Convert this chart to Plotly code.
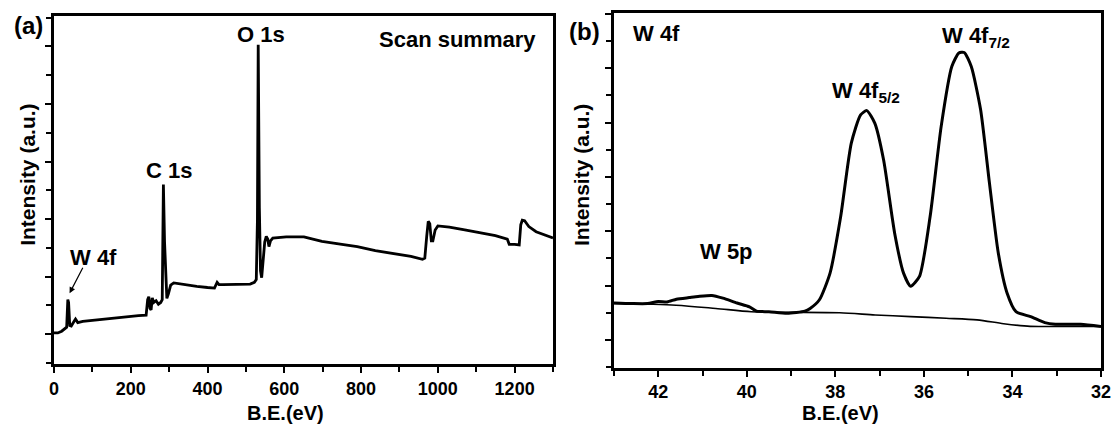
import plotly.graph_objects as go

# ---------------- Panel (a): survey scan ----------------
survey_be = [0, 10, 20, 28, 33, 36, 38, 41, 45, 52, 56, 62, 75, 100, 140, 180, 220, 240,
             244, 247, 250, 253, 256, 260, 266, 272, 278, 282, 285, 288, 291, 294, 298,
             304, 312, 340, 372, 400, 418, 425, 430, 440, 480, 511, 522, 527, 530, 532,
             535, 538, 541, 545, 549, 553, 557, 560, 564, 570, 605, 651, 698, 750, 790,
             837, 884, 930, 960, 966, 971, 975, 979, 983, 987, 993, 1000, 1030, 1070,
             1116, 1150, 1181, 1186, 1200, 1212, 1216, 1220, 1226, 1237, 1256, 1274, 1300]
survey_int = [1.02, 1.02, 1.05, 1.10, 1.12, 1.60, 1.55, 1.15, 1.14, 1.22, 1.26, 1.20, 1.22,
              1.24, 1.27, 1.30, 1.32, 1.33, 1.60, 1.65, 1.45, 1.42, 1.63, 1.55, 1.58, 1.52,
              1.55, 1.60, 3.60, 2.60, 1.90, 1.62, 1.70, 1.85, 1.89, 1.86, 1.83, 1.81, 1.80,
              1.90, 1.86, 1.86, 1.87, 1.87, 1.90, 1.95, 3.00, 6.03, 3.20, 2.10, 1.98, 2.35,
              2.60, 2.70, 2.65, 2.52, 2.62, 2.67, 2.69, 2.69, 2.61, 2.56, 2.52, 2.45, 2.40,
              2.35, 2.30, 2.32, 2.70, 2.96, 2.92, 2.62, 2.62, 2.81, 2.88, 2.86, 2.81, 2.76,
              2.71, 2.65, 2.56, 2.56, 2.55, 2.90, 2.98, 2.97, 2.87, 2.78, 2.73, 2.67]

# ---------------- Panel (b): W 4f high resolution ----------------
w4f_be = [43.0, 42.6, 42.24, 42.0, 41.8, 41.59, 41.3, 41.1, 40.79, 40.54, 40.22, 39.94,
          39.78, 39.50, 39.09, 38.69, 38.57, 38.36, 38.12, 37.88, 37.64, 37.43, 37.29,
          37.11, 36.91, 36.66, 36.46, 36.30, 36.10, 35.86, 35.61, 35.37, 35.21, 35.09,
          34.93, 34.72, 34.52, 34.32, 34.12, 33.92, 33.59, 33.27, 33.03, 32.46, 32.0]
w4f_int = [1.68, 1.67, 1.67, 1.71, 1.70, 1.75, 1.78, 1.80, 1.82, 1.77, 1.68, 1.61,
           1.53, 1.52, 1.49, 1.53, 1.58, 1.74, 2.23, 3.27, 4.62, 5.14, 5.22,
           4.99, 4.31, 2.96, 2.23, 1.99, 2.17, 3.27, 4.93, 6.03, 6.28, 6.29,
           6.03, 5.24, 3.89, 2.60, 1.86, 1.52, 1.43, 1.32, 1.29, 1.29, 1.25]

bg_be = [43.0, 41.6, 40.7, 39.9, 39.1, 37.9, 37.1, 36.3, 35.5, 34.8, 34.2, 33.6, 33.0, 32.0]
bg_int = [1.67, 1.64, 1.58, 1.52, 1.51, 1.50, 1.46, 1.43, 1.40, 1.37, 1.30, 1.25, 1.25, 1.25]

survey_xticks = [0, 200, 400, 600, 800, 1000, 1200]
w4f_xticks = [42, 40, 38, 36, 34, 32]

FONT = "Liberation Sans, Arial, Helvetica, sans-serif"
BLACK = "#000000"

fig = go.Figure()
fig.add_trace(go.Scatter(x=survey_be, y=survey_int, mode="lines",
                         line=dict(color=BLACK, width=2.8), xaxis="x", yaxis="y",
                         showlegend=False, hoverinfo="skip"))
fig.add_trace(go.Scatter(x=w4f_be, y=w4f_int, mode="lines",
                         line=dict(color=BLACK, width=3, shape="spline", smoothing=0.6),
                         xaxis="x2", yaxis="y2", showlegend=False, hoverinfo="skip"))
fig.add_trace(go.Scatter(x=bg_be, y=bg_int, mode="lines",
                         line=dict(color=BLACK, width=1.6, shape="spline", smoothing=0.8),
                         xaxis="x2", yaxis="y2", showlegend=False, hoverinfo="skip"))

W, H = 1116, 425

def px_x(p):
    return p / W

def px_y(p):
    return 1 - p / H

axis_common = dict(showline=True, linecolor=BLACK, linewidth=3, mirror=True,
                   showgrid=False, zeroline=False, ticks="outside", ticklen=6,
                   tickwidth=2, tickcolor=BLACK)

fig.update_layout(
    width=W, height=H,
    margin=dict(l=0, r=0, t=0, b=0, autoexpand=False),
    paper_bgcolor="white", plot_bgcolor="white",
    font=dict(family=FONT, color=BLACK, size=18),
    xaxis=dict(domain=[px_x(54), px_x(553)], range=[0, 1300], anchor="y",
               tickvals=survey_xticks, ticktext=[str(v) for v in survey_xticks],
               tickfont=dict(size=18, weight="bold", family=FONT),
               minor=dict(dtick=100, tick0=0, ticks="outside", ticklen=5, tickwidth=2,
                          tickcolor=BLACK),
               ticklabelstandoff=0, **axis_common),
    yaxis=dict(domain=[px_y(364), px_y(16)], range=[0.48, 6.53], anchor="x",
               dtick=1, tick0=0, showticklabels=False,
               minor=dict(dtick=0.5, tick0=0, ticks="outside", ticklen=5, tickwidth=2,
                          tickcolor=BLACK),
               **axis_common),
    xaxis2=dict(domain=[px_x(614), px_x(1101)], range=[43, 32], anchor="y2",
                tickvals=w4f_xticks, ticktext=[str(v) for v in w4f_xticks],
                tickfont=dict(size=18, weight="bold", family=FONT),
                minor=dict(dtick=1, tick0=0, ticks="outside", ticklen=5, tickwidth=2,
                           tickcolor=BLACK),
                ticklabelstandoff=0, **axis_common),
    yaxis2=dict(domain=[px_y(367.7), px_y(13.3)], range=[0.49, 7.01], anchor="x2",
                dtick=1, tick0=0, showticklabels=False,
                minor=dict(dtick=0.5, tick0=0, ticks="outside", ticklen=5, tickwidth=2,
                           tickcolor=BLACK),
                **axis_common),
)

def label(text, x, y, xref, yref, size=22, angle=0):
    fig.add_annotation(text=f"<b>{text}</b>", x=x, y=y, xref=xref, yref=yref,
                       showarrow=False, xanchor="center", yanchor="middle",
                       textangle=angle, font=dict(family=FONT, size=size, color=BLACK))

# panel letters
label("(a)", px_x(28.6), px_y(25), "paper", "paper", size=24)
label("(b)", px_x(584), px_y(31.5), "paper", "paper", size=24)

# axis titles
label("Intensity (a.u.)", px_x(26.8), px_y(175), "paper", "paper", size=21, angle=-90)
label("Intensity (a.u.)", px_x(581), px_y(175), "paper", "paper", size=21, angle=-90)
label("B.E.(eV)", px_x(285.7), px_y(413), "paper", "paper", size=20)
label("B.E.(eV)", px_x(840.8), px_y(413), "paper", "paper", size=20)

# panel (a) peak labels
label("O 1s", 540, 6.21, "x", "y")
label("Scan summary", 1052, 6.12, "x", "y")
label("C 1s", 299, 3.84, "x", "y")
label("W 4f", 104, 2.34, "x", "y")
fig.add_annotation(x=40.6, y=1.71, xref="x", yref="y", text="", showarrow=True,
                   ax=14, ay=-27, arrowhead=2, arrowsize=1, arrowwidth=1.2,
                   arrowcolor=BLACK)

# panel (b) peak labels
label("W 4f", 42.03, 6.64, "x2", "y2")
label("W 4f<sub>7/2</sub>", 34.82, 6.57, "x2", "y2")
label("W 4f<sub>5/2</sub>", 37.30, 5.57, "x2", "y2")
label("W 5p", 40.46, 2.62, "x2", "y2")

fig.write_html("out.html", config={"displayModeBar": False},
               post_script="document.body.style.margin='0';document.body.style.overflow='hidden';")
